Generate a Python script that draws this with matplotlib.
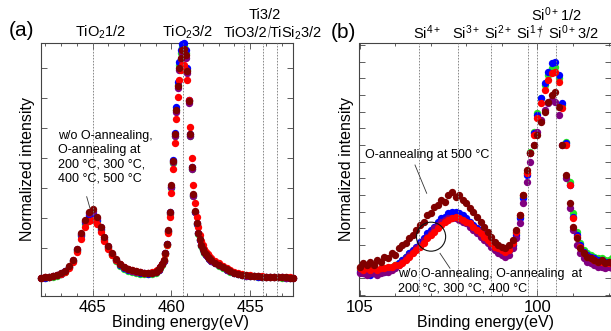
import numpy as np
import matplotlib
matplotlib.use('Agg')
import matplotlib.pyplot as plt
from matplotlib.ticker import MultipleLocator
from matplotlib.patches import Ellipse
from matplotlib.lines import Line2D

plt.rcParams['font.family'] = ['Liberation Sans', 'DejaVu Sans']
plt.rcParams['mathtext.default'] = 'regular'

# ---------------- panel (a): Ti 2p ----------------
energy_a = np.round(np.concatenate([np.arange(468.25, 460.99, -0.25),
                                    np.arange(460.9, 457.49, -0.1),
                                    np.arange(457.25, 452.24, -0.25)]), 2)

green_a = [0.00, 0.01, 0.03, 0.05, 0.09, 0.14, 0.22, 0.36, 0.57, 0.92,
           1.40, 1.82, 2.05, 2.10, 1.90, 1.60, 1.28, 1.00, 0.77, 0.57,
           0.42, 0.32, 0.25, 0.20, 0.17, 0.15, 0.14, 0.13, 0.15, 0.19,
           0.23, 0.28, 0.35, 0.45, 0.58, 0.82, 1.12, 1.55, 2.15, 3.00,
           3.85, 4.75, 5.60, 6.45, 7.10, 7.50, 7.72, 7.75, 7.50, 6.95,
           5.90, 4.75, 3.65, 2.75, 2.20, 1.80, 1.48, 1.26, 1.08, 0.95,
           0.85, 0.77, 0.70, 0.64, 0.58,
           0.50, 0.42, 0.35, 0.28, 0.22, 0.17, 0.14, 0.11, 0.09, 0.07,
           0.06, 0.05, 0.05, 0.04, 0.04, 0.03, 0.03, 0.02, 0.02, 0.02, 0.01]
blue_a = [0.01, 0.02, 0.04, 0.06, 0.10, 0.15, 0.23, 0.37, 0.59, 0.94,
          1.43, 1.86, 2.10, 2.15, 1.95, 1.64, 1.31, 1.03, 0.80, 0.60,
          0.45, 0.35, 0.28, 0.23, 0.20, 0.18, 0.16, 0.15, 0.17, 0.20,
          0.24, 0.29, 0.36, 0.46, 0.59, 0.84, 1.14, 1.58, 2.20, 3.05,
          3.95, 4.85, 5.70, 6.55, 7.20, 7.60, 7.82, 7.85, 7.60, 7.00,
          5.95, 4.80, 3.70, 2.78, 2.22, 1.82, 1.50, 1.28, 1.10, 0.96,
          0.86, 0.78, 0.71, 0.65, 0.59,
          0.51, 0.43, 0.36, 0.29, 0.23, 0.18, 0.14, 0.11, 0.09, 0.07,
          0.06, 0.05, 0.05, 0.04, 0.04, 0.03, 0.03, 0.03, 0.02, 0.02, 0.01]
purple_a = [0.02, 0.03, 0.05, 0.07, 0.11, 0.16, 0.24, 0.39, 0.61, 0.97,
            1.47, 1.92, 2.18, 2.25, 2.02, 1.70, 1.36, 1.06, 0.82, 0.62,
            0.47, 0.37, 0.30, 0.25, 0.22, 0.20, 0.18, 0.17, 0.18, 0.21,
            0.24, 0.29, 0.37, 0.46, 0.59, 0.84, 1.14, 1.58, 2.18, 3.05,
            3.88, 4.75, 5.55, 6.35, 6.95, 7.30, 7.52, 7.55, 7.35, 6.85,
            5.85, 4.75, 3.65, 2.75, 2.22, 1.83, 1.50, 1.28, 1.10, 0.97,
            0.87, 0.79, 0.71, 0.65, 0.59,
            0.51, 0.43, 0.36, 0.29, 0.23, 0.18, 0.14, 0.11, 0.09, 0.08,
            0.07, 0.06, 0.05, 0.04, 0.04, 0.03, 0.03, 0.03, 0.02, 0.02, 0.02]
red_a = [0.02, 0.03, 0.05, 0.07, 0.10, 0.15, 0.22, 0.35, 0.55, 0.86,
         1.30, 1.70, 1.92, 1.95, 1.80, 1.55, 1.25, 0.99, 0.78, 0.60,
         0.46, 0.37, 0.30, 0.26, 0.23, 0.21, 0.19, 0.18, 0.20, 0.24,
         0.27, 0.32, 0.39, 0.48, 0.60, 0.82, 1.10, 1.50, 2.05, 2.85,
         3.65, 4.50, 5.30, 6.05, 6.60, 6.95, 7.10, 7.10, 6.95, 6.60,
         5.95, 5.05, 4.00, 3.10, 2.50, 2.05, 1.70, 1.45, 1.25, 1.10,
         0.98, 0.88, 0.80, 0.73, 0.67,
         0.58, 0.50, 0.42, 0.35, 0.28, 0.22, 0.18, 0.14, 0.12, 0.10,
         0.08, 0.07, 0.06, 0.05, 0.05, 0.04, 0.04, 0.03, 0.03, 0.03, 0.02]
wine_a = [0.02, 0.03, 0.05, 0.07, 0.11, 0.16, 0.25, 0.40, 0.62, 0.98,
          1.50, 1.95, 2.22, 2.30, 2.05, 1.72, 1.38, 1.08, 0.84, 0.64,
          0.48, 0.38, 0.31, 0.26, 0.23, 0.21, 0.19, 0.18, 0.19, 0.22,
          0.25, 0.30, 0.38, 0.47, 0.60, 0.85, 1.15, 1.60, 2.20, 3.10,
          3.90, 4.80, 5.60, 6.40, 7.00, 7.35, 7.60, 7.65, 7.45, 6.90,
          5.90, 4.80, 3.70, 2.80, 2.25, 1.85, 1.52, 1.30, 1.12, 0.98,
          0.88, 0.80, 0.72, 0.66, 0.60,
          0.52, 0.44, 0.37, 0.30, 0.24, 0.19, 0.15, 0.12, 0.10, 0.08,
          0.07, 0.06, 0.05, 0.05, 0.04, 0.04, 0.03, 0.03, 0.03, 0.02, 0.02]

lines_a = [465.0, 459.26, 455.4, 454.2, 453.3]

# ---------------- panel (b): Si 2p ----------------
energy_b = np.round(np.arange(105.0, 97.85, -0.1), 2)

green_b = [0.5, 0.5, 0.4, 0.5, 0.4, 0.5, 0.5, 0.6, 0.6, 0.7, 0.8,
           0.9, 1.1, 1.3, 1.5, 1.6, 1.8, 2.1, 2.3, 2.5, 2.8,
           3.0, 3.2, 3.4, 3.5, 3.6, 3.7, 3.7, 3.6, 3.5, 3.4,
           3.3, 3.1, 2.9, 2.7, 2.5, 2.3, 2.1, 1.9, 1.8, 1.6,
           1.5, 1.7, 2.0, 2.7, 3.7, 4.9, 6.3, 7.6, 8.8, 9.9,
           10.8, 11.6, 12.2, 12.6, 12.7, 12.0, 10.4, 8.2, 5.8, 3.9,
           2.8, 2.1, 1.7, 1.5, 1.4, 1.3, 1.2, 1.2, 1.1, 1.1,
           1.2]
blue_b = [0.4, 0.3, 0.3, 0.2, 0.3, 0.3, 0.4, 0.4, 0.5, 0.6, 0.7,
          0.9, 1.1, 1.3, 1.5, 1.7, 1.9, 2.2, 2.4, 2.7, 2.9,
          3.1, 3.4, 3.6, 3.7, 3.9, 4.0, 4.0, 3.9, 3.8, 3.6,
          3.4, 3.2, 3.0, 2.8, 2.6, 2.4, 2.2, 2.0, 1.8, 1.7,
          1.6, 1.7, 2.0, 2.6, 3.6, 4.8, 6.2, 7.5, 8.7, 9.8,
          10.8, 11.7, 12.4, 12.9, 13.0, 12.2, 10.5, 8.1, 5.6, 3.7,
          2.6, 2.0, 1.6, 1.4, 1.3, 1.2, 1.1, 1.1, 1.0, 1.0,
          1.0]
purple_b = [0.3, 0.3, 0.2, 0.3, 0.3, 0.2, 0.3, 0.4, 0.4, 0.5, 0.6,
            0.8, 1.0, 1.2, 1.4, 1.6, 1.8, 2.0, 2.3, 2.5, 2.7,
            3.0, 3.2, 3.4, 3.5, 3.6, 3.6, 3.6, 3.5, 3.4, 3.3,
            3.1, 2.9, 2.7, 2.5, 2.3, 2.1, 1.9, 1.7, 1.5, 1.4,
            1.3, 1.4, 1.8, 2.4, 3.3, 4.5, 5.8, 7.0, 8.0, 8.8,
            9.5, 10.1, 10.5, 10.7, 10.6, 9.8, 8.0, 6.0, 4.2, 2.9,
            2.0, 1.5, 1.2, 1.0, 0.9, 0.8, 0.7, 0.7, 0.6, 0.7,
            0.6]
red_b = [0.6, 0.5, 0.6, 0.5, 0.6, 0.5, 0.6, 0.6, 0.7, 0.7, 0.8,
         0.8, 0.9, 1.1, 1.3, 1.5, 1.7, 1.9, 2.1, 2.4, 2.6,
         2.8, 3.0, 3.2, 3.4, 3.5, 3.6, 3.7, 3.6, 3.5, 3.4,
         3.3, 3.1, 2.9, 2.7, 2.5, 2.3, 2.1, 1.9, 1.8, 1.7,
         1.6, 1.7, 2.1, 2.8, 3.8, 5.0, 6.3, 7.5, 8.6, 9.6,
         10.5, 11.3, 11.9, 12.3, 12.4, 11.8, 10.2, 8.0, 5.6, 3.6,
         2.5, 1.9, 1.5, 1.3, 1.2, 1.1, 1.0, 1.0, 0.9, 0.9,
         1.0]
wine_b = [0.7, 0.9, 0.8, 1.0, 0.8, 1.1, 1.0, 1.3, 1.2, 1.5, 1.4,
          1.8, 2.0, 2.1, 2.4, 2.6, 2.9, 3.2, 3.4, 3.8, 3.9,
          4.3, 4.4, 4.7, 4.6, 5.0, 5.2, 4.9, 5.0, 4.7, 4.5,
          4.2, 4.0, 3.7, 3.4, 3.1, 2.8, 2.5, 2.2, 2.0, 1.9,
          1.8, 2.0, 2.3, 2.9, 3.8, 5.0, 6.5, 7.5, 8.0, 8.6,
          9.4, 10.0, 10.6, 11.0, 11.2, 10.3, 8.0, 6.2, 4.5, 3.1,
          2.4, 1.8, 1.5, 1.3, 1.2, 1.1, 1.0, 1.1, 0.9, 1.0,
          0.9]

lines_b = [103.33, 102.22, 101.31, 100.28, 100.0, 99.49]

colors = ['#22e622', '#0000ff', '#800080', '#ff0000', '#800000']

W, H = 611, 331
fig = plt.figure(figsize=(W / 100, H / 100), dpi=100)
ax1 = fig.add_axes([40.7 / W, 35 / H, 252.6 / W, 253.3 / H])
ax2 = fig.add_axes([359.5 / W, 35 / H, 252.0 / W, 253.3 / H])


def style(ax):
    ax.tick_params(which='both', direction='in', top=True, right=True,
                   labelleft=False, width=0.6, color='#444', labelsize=12, pad=3)
    ax.tick_params(which='major', length=4)
    ax.tick_params(which='minor', length=2.5)
    ax.xaxis.set_minor_locator(MultipleLocator(1))
    ax.xaxis.set_major_locator(MultipleLocator(5))
    ax.yaxis.set_major_locator(MultipleLocator(1))
    for s in ax.spines.values():
        s.set_linewidth(0.8)
        s.set_color('#444')
    ax.set_xlabel('Binding energy(eV)', fontsize=11.5)
    ax.set_ylabel('Normalized intensity', fontsize=11.5, labelpad=4)


for ax, e, series, vl in [(ax1, energy_a, [green_a, blue_a, purple_a, red_a, wine_a], lines_a),
                          (ax2, energy_b, [green_b, blue_b, purple_b, red_b, wine_b], lines_b)]:
    for y, c in zip(series, colors):
        ax.scatter(e, y, s=28, color=c, linewidths=0, zorder=3, clip_on=False)
    for v in vl:
        ax.axvline(v, color='#777777', lw=0.6, ls=(0, (2, 1.6)), zorder=4)
    style(ax)

ax1.set_xlim(468.3, 452.26)
ax1.set_ylim(-0.59, 7.85)
ax2.set_xlim(105.0, 97.92)
ax2.set_ylim(-1.06, 14.14)
ax1.xaxis.set_label_coords(0.555, -0.075)
ax2.xaxis.set_label_coords(0.5, -0.075)


def fp(x, y):
    return (x / W, 1 - y / H)


def ftext(x, y, s, size=10.5, ha='center'):
    fig.text(*fp(x, y), s, fontsize=size, ha=ha, va='center')


def fline(x1, y1, x2, y2, lw=0.6):
    a = fp(x1, y1)
    b = fp(x2, y2)
    fig.add_artist(Line2D([a[0], b[0]], [a[1], b[1]], transform=fig.transFigure,
                          color='#333333', lw=lw))


# panel letters
ftext(22, 31, '(a)', size=15)
ftext(343, 33, '(b)', size=15)

# peak labels (a)
ftext(101, 32, 'TiO$_2$1/2')
ftext(187.5, 32, 'TiO$_2$3/2')
ftext(245, 33, 'TiO3/2')
ftext(265, 15, 'Ti3/2')
ftext(295, 33, 'TiSi$_2$3/2')
fline(270.5, 26, 268.5, 37, lw=0.5)

# peak labels (b)
ftext(427, 33, 'Si$^{4+}$')
ftext(466, 33, 'Si$^{3+}$')
ftext(498, 33, 'Si$^{2+}$')
ftext(530, 33, 'Si$^{1+}$')
ftext(573, 33, 'Si$^{0+}$3/2')
ftext(556, 15, 'Si$^{0+}$1/2')
fline(541.5, 26, 539.5, 37, lw=0.5)

# annotations (a)
fig.text(*fp(58, 130), 'w/o O-annealing,\nO-annealing at\n200 \u00b0C, 300 \u00b0C,\n400 \u00b0C, 500 \u00b0C',
         fontsize=9, ha='left', va='top', linespacing=1.25)
fline(86.7, 196.7, 90, 208.3)

# annotations (b)
ftext(365, 155, 'O-annealing at 500 \u00b0C', size=9, ha='left')
fline(415, 165, 426.7, 193.3)
ax2.add_patch(Ellipse((102.99, 2.5), width=0.82, height=1.74, fill=False,
                      edgecolor='#111111', lw=0.8, zorder=5))
fline(440, 253.3, 450, 268.3)
fig.text(*fp(398, 268), 'w/o O-annealing, O-annealing  at\n200 \u00b0C, 300 \u00b0C, 400 \u00b0C',
         fontsize=9, ha='left', va='top', linespacing=1.25)

fig.savefig('out.png', dpi=100)
